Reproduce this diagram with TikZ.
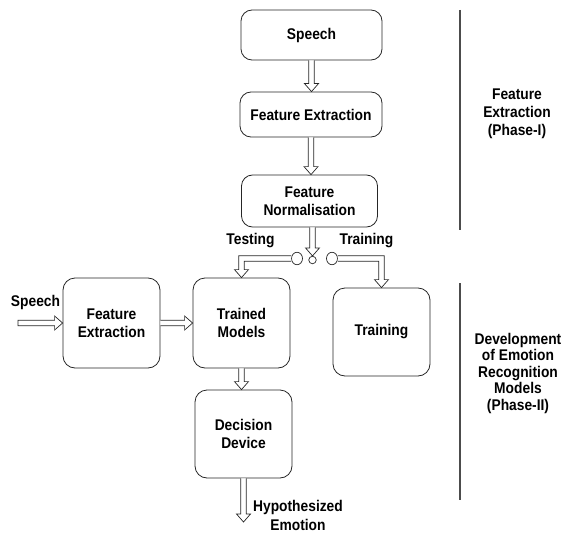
\documentclass[tikz,border=0pt]{standalone}
\usepackage{fontspec}
\setmainfont{Liberation Sans}[FakeStretch=0.89]
\usetikzlibrary{calc,shapes.geometric}
\tikzset{
  box/.style={draw=black!85, line width=0.8pt, rounded corners=12pt, align=center,
    inner sep=2pt},
  lbl/.style={align=center, inner sep=0pt, font=\bfseries\fontsize{15.5}{18.5}\selectfont},
  hol/.style={draw=black!85, line width=0.7pt, fill=white, line join=miter},
  sep/.style={draw=black!70, line width=1.2pt},
  sw/.style={draw=black!85, line width=0.7pt, fill=white, inner sep=0pt}
}
\newcommand\darr[2]{% down arrow: y start from #1, x and tip from #2
  \draw[hol] let \p1=#1, \p2=#2 in
    (\x2-2.8pt,\y1) -- (\x2-2.8pt,\y2+8pt) -- (\x2-7pt,\y2+8pt) -- (\x2,\y2)
    -- (\x2+7pt,\y2+8pt) -- (\x2+2.8pt,\y2+8pt) -- (\x2+2.8pt,\y1);}
\newcommand\rarr[2]{% right arrow: x start from #1, y and tip from #2
  \draw[hol] let \p1=#1, \p2=#2 in
    (\x1,\y2+2.8pt) -- (\x2-8pt,\y2+2.8pt) -- (\x2-8pt,\y2+7pt) -- (\x2,\y2)
    -- (\x2-8pt,\y2-7pt) -- (\x2-8pt,\y2-2.8pt) -- (\x1,\y2-2.8pt);}
\begin{document}
\begin{tikzpicture}[x=1pt,y=-1pt]
\useasboundingbox (0,0) rectangle (565,535);
\begin{scope}[every node/.append style={font=\bfseries\fontsize{15.5}{18.5}\selectfont}]
\node[box, minimum width=141pt, minimum height=50pt, rounded corners=11pt] (speech) at (311.5,35) {Speech};
\node[box, minimum width=142pt, minimum height=45pt, rounded corners=11pt] (fe1) at (311,114.5) {Feature Extraction};
\node[box, minimum width=136pt, minimum height=52pt, rounded corners=11pt] (fn) at (309.5,201) {Feature\\Normalisation};
\node[box, minimum width=97pt, minimum height=90pt] (fe2) at (111.5,323) {Feature\\Extraction};
\node[box, minimum width=97pt, minimum height=90pt] (tm) at (241.5,323) {Trained\\Models};
\node[box, minimum width=97pt, minimum height=88pt] (train) at (381.5,332) {Training};
\node[box, minimum width=97pt, minimum height=88pt] (dd) at (243.5,434) {Decision\\Device};
\end{scope}
% switch
\node[sw, ellipse, minimum width=11pt, minimum height=12.5pt] (sl) at (297,258.5) {};
\node[sw, ellipse, minimum width=11pt, minimum height=12.5pt] (sr) at (332,258.5) {};
\node[sw, circle, minimum size=7.5pt] (sc) at (312.5,260) {};
% labels
\node[lbl] (testing) at (250.5,241) {Testing};
\node[lbl] (training) at (366.5,241) {Training};
\node[lbl] (sp2) at (35.5,302) {Speech};
\node[lbl] (hyp) at (298,515.5) {Hypothesized\\Emotion};
\node[lbl, font=\bfseries\fontsize{15.5}{18}\selectfont] (ph1) at (517,114) {Feature\\Extraction\\(Phase-I)};
\node[lbl, font=\bfseries\fontsize{15.5}{16.5}\selectfont] (ph2) at (518,373) {Development\\of Emotion\\Recognition\\Models\\(Phase-II)};
\coordinate (spstart) at (18,323);
\coordinate (out) at (243.5,522);
% separators
\coordinate (s1a) at (460,10); \coordinate (s1b) at (460,230);
\coordinate (s2a) at (460,283); \coordinate (s2b) at (460,500);
\draw[sep] (s1a) -- (s1b);
\draw[sep] (s2a) -- (s2b);
% arrows
\darr{(speech.south)}{(speech.south |- fe1.north)}
\darr{(fe1.south)}{(fe1.south |- fn.north)}
\darr{(fn.south)}{(sc.north)}
\darr{(tm.south)}{(tm.south |- dd.north)}
\darr{(dd.south)}{(out)}
\rarr{(fe2.east)}{(tm.west)}
\draw[hol] let \p1=(spstart), \p2=(fe2.west) in
    (\x1,\y2+2.8pt) -- (\x2-8pt,\y2+2.8pt) -- (\x2-8pt,\y2+7pt) -- (\x2,\y2)
    -- (\x2-8pt,\y2-7pt) -- (\x2-8pt,\y2-2.8pt) -- (\x1,\y2-2.8pt) -- cycle;
\draw[hol] let \p1=(sl.west), \p2=(tm.north) in
  (\x1,\y1+2.8pt) -- (\x2-2.8pt,\y1+2.8pt) -- (\x2-2.8pt,\y2+8pt) -- (\x2-7pt,\y2+8pt)
  -- (\x2,\y2) -- (\x2+7pt,\y2+8pt) -- (\x2+2.8pt,\y2+8pt) -- (\x2+2.8pt,\y1-2.8pt)
  -- (\x1,\y1-2.8pt);
\draw[hol] let \p1=(sr.east), \p2=(train.north) in
  (\x1,\y1+2.8pt) -- (\x2+2.8pt,\y1+2.8pt) -- (\x2+2.8pt,\y2+8pt) -- (\x2+7pt,\y2+8pt)
  -- (\x2,\y2) -- (\x2-7pt,\y2+8pt) -- (\x2-2.8pt,\y2+8pt) -- (\x2-2.8pt,\y1-2.8pt)
  -- (\x1,\y1-2.8pt);
\end{tikzpicture}
\end{document}
